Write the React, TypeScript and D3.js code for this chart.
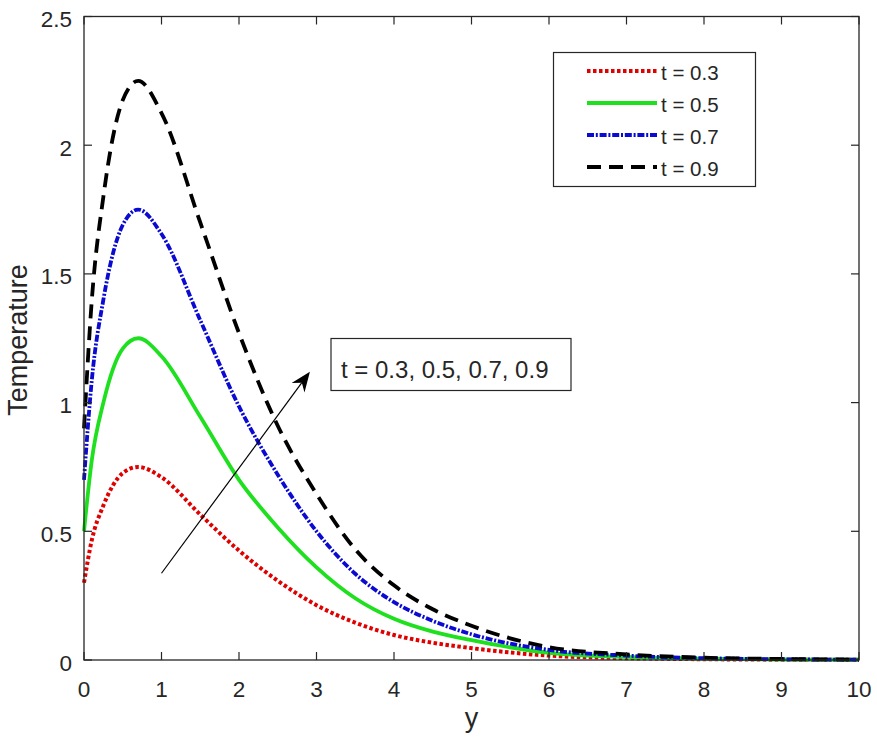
import React, { useEffect, useRef } from "react"
import * as d3 from "d3"

// sample positions along y
const yPos = [0, 0.1, 0.25, 0.5, 0.7, 1, 1.5, 2, 2.5, 3, 3.5, 4, 4.5, 5, 6, 7, 8, 9, 10]

// temperature profiles
const t03 = [0.3, 0.465, 0.6, 0.726, 0.75, 0.71, 0.565, 0.425, 0.308, 0.213, 0.145, 0.097, 0.067, 0.046, 0.017, 0.007, 0.003, 0.0012, 0.0005]
const t05 = [0.5, 0.775, 1.0, 1.21, 1.25, 1.18, 0.945, 0.7, 0.515, 0.36, 0.24, 0.16, 0.11, 0.077, 0.028, 0.012, 0.005, 0.002, 0.001]
const t07 = [0.7, 1.085, 1.4, 1.69, 1.75, 1.655, 1.32, 0.985, 0.72, 0.5, 0.335, 0.225, 0.152, 0.1, 0.039, 0.017, 0.007, 0.003, 0.001]
const t09 = [0.9, 1.395, 1.8, 2.175, 2.25, 2.125, 1.7, 1.27, 0.91, 0.645, 0.43, 0.29, 0.197, 0.133, 0.05, 0.022, 0.009, 0.004, 0.0015]

const seriesLabels = ["t = 0.3", "t = 0.5", "t = 0.7", "t = 0.9"]
const xTicks = [0, 1, 2, 3, 4, 5, 6, 7, 8, 9, 10]
const yTicks = [0, 0.5, 1, 1.5, 2, 2.5]
const noteText = "t = 0.3, 0.5, 0.7, 0.9"

const styles = [
  { color: "#e00000", width: 4, dash: "3.5,2.5" },
  { color: "#1ee01e", width: 3.8, dash: "" },
  { color: "#0a0ad2", width: 3.8, dash: "7,1.8,2,1.8" },
  { color: "#000000", width: 3.8, dash: "14,8" },
]

const FONT = "'Liberation Sans', Arial, Helvetica, sans-serif"
const INK = "#262626"

export default function App() {
  const svgRef = useRef<SVGSVGElement>(null)

  useEffect(() => {
    if (!svgRef.current) return
    const svg = d3.select(svgRef.current)
    svg.selectAll("*").remove()

    const left = 84, right = 859, top = 16.5, bottom = 660

    const x = d3.scaleLinear().domain([0, 10]).range([left, right])
    const y = d3.scaleLinear().domain([0, 2.5]).range([bottom, top])

    const all = [t03, t05, t07, t09]

    const line = d3
      .line<number>()
      .x((_, i) => x(yPos[i]))
      .y(d => y(d))
      .curve(d3.curveMonotoneX)

    // curves
    all.forEach((vals, k) => {
      svg
        .append("path")
        .attr("d", line(vals) || "")
        .attr("fill", "none")
        .attr("stroke", styles[k].color)
        .attr("stroke-width", styles[k].width)
        .attr("stroke-dasharray", styles[k].dash || null)
    })

    // axes box
    svg
      .append("rect")
      .attr("x", left)
      .attr("y", top)
      .attr("width", right - left)
      .attr("height", bottom - top)
      .attr("fill", "none")
      .attr("stroke", INK)
      .attr("stroke-width", 1.3)

    const tickLen = 8
    const ticks = svg.append("g").attr("stroke", INK).attr("stroke-width", 1.2)
    xTicks.forEach(v => {
      ticks.append("line").attr("x1", x(v)).attr("x2", x(v)).attr("y1", bottom).attr("y2", bottom - tickLen)
      ticks.append("line").attr("x1", x(v)).attr("x2", x(v)).attr("y1", top).attr("y2", top + tickLen)
    })
    yTicks.forEach(v => {
      ticks.append("line").attr("x1", left).attr("x2", left + tickLen).attr("y1", y(v)).attr("y2", y(v))
      ticks.append("line").attr("x1", right).attr("x2", right - tickLen).attr("y1", y(v)).attr("y2", y(v))
    })

    svg
      .selectAll(".xtick")
      .data(xTicks)
      .enter()
      .append("text")
      .attr("x", d => x(d))
      .attr("y", 697)
      .attr("text-anchor", "middle")
      .attr("font-family", FONT)
      .attr("font-size", 22.5)
      .attr("fill", INK)
      .text(d => d)

    svg
      .selectAll(".ytick")
      .data(yTicks)
      .enter()
      .append("text")
      .attr("x", 72)
      .attr("y", d => y(d) + 10.5)
      .attr("text-anchor", "end")
      .attr("font-family", FONT)
      .attr("font-size", 22.5)
      .attr("fill", INK)
      .text(d => d)

    // axis titles
    svg
      .append("text")
      .attr("x", (left + right) / 2)
      .attr("y", 727)
      .attr("text-anchor", "middle")
      .attr("font-family", FONT)
      .attr("font-size", 27)
      .attr("fill", INK)
      .text("y")

    svg
      .append("text")
      .attr("transform", `translate(26.5,340) rotate(-90)`)
      .attr("text-anchor", "middle")
      .attr("font-family", FONT)
      .attr("font-size", 27)
      .attr("fill", INK)
      .text("Temperature")

    // legend
    const lg = svg.append("g")
    lg.append("rect")
      .attr("x", 553.5)
      .attr("y", 52.5)
      .attr("width", 202)
      .attr("height", 134)
      .attr("fill", "white")
      .attr("stroke", INK)
      .attr("stroke-width", 1.2)
    seriesLabels.forEach((lab, k) => {
      const ly = 71 + k * 32
      lg.append("line")
        .attr("x1", 587)
        .attr("x2", 657)
        .attr("y1", ly)
        .attr("y2", ly)
        .attr("stroke", styles[k].color)
        .attr("stroke-width", styles[k].width)
        .attr("stroke-dasharray", styles[k].dash || null)
      lg.append("text")
        .attr("x", 661)
        .attr("y", ly + 8.5)
        .attr("font-family", FONT)
        .attr("font-size", 20.5)
        .attr("fill", INK)
        .text(lab)
    })

    // annotation arrow
    const ax1 = x(1.0), ay1 = y(0.337)
    const ax2 = x(2.915), ay2 = y(1.12)
    const ang = Math.atan2(ay2 - ay1, ax2 - ax1)
    const headL = 20, headW = 8
    const bx = ax2 - headL * Math.cos(ang), by = ay2 - headL * Math.sin(ang)
    const nx = ax2 - headL * 0.68 * Math.cos(ang), ny = ay2 - headL * 0.68 * Math.sin(ang)
    svg
      .append("line")
      .attr("x1", ax1)
      .attr("y1", ay1)
      .attr("x2", nx)
      .attr("y2", ny)
      .attr("stroke", "#000")
      .attr("stroke-width", 1.2)
    const px = -Math.sin(ang), py = Math.cos(ang)
    svg
      .append("path")
      .attr(
        "d",
        `M${ax2},${ay2} L${bx + px * headW},${by + py * headW} L${nx},${ny} L${bx - px * headW},${by - py * headW} Z`
      )
      .attr("fill", "#000")

    // annotation box
    svg
      .append("rect")
      .attr("x", 331)
      .attr("y", 338.5)
      .attr("width", 240)
      .attr("height", 52)
      .attr("fill", "white")
      .attr("stroke", INK)
      .attr("stroke-width", 1.2)
    svg
      .append("text")
      .attr("x", 341)
      .attr("y", 378)
      .attr("font-family", FONT)
      .attr("font-size", 24)
      .attr("fill", INK)
      .text(noteText)
  }, [])

  return (
    <svg
      ref={svgRef}
      width={877}
      height={744}
      style={{ position: "absolute", left: 0, top: 0, background: "white" }}
    ></svg>
  )
}
